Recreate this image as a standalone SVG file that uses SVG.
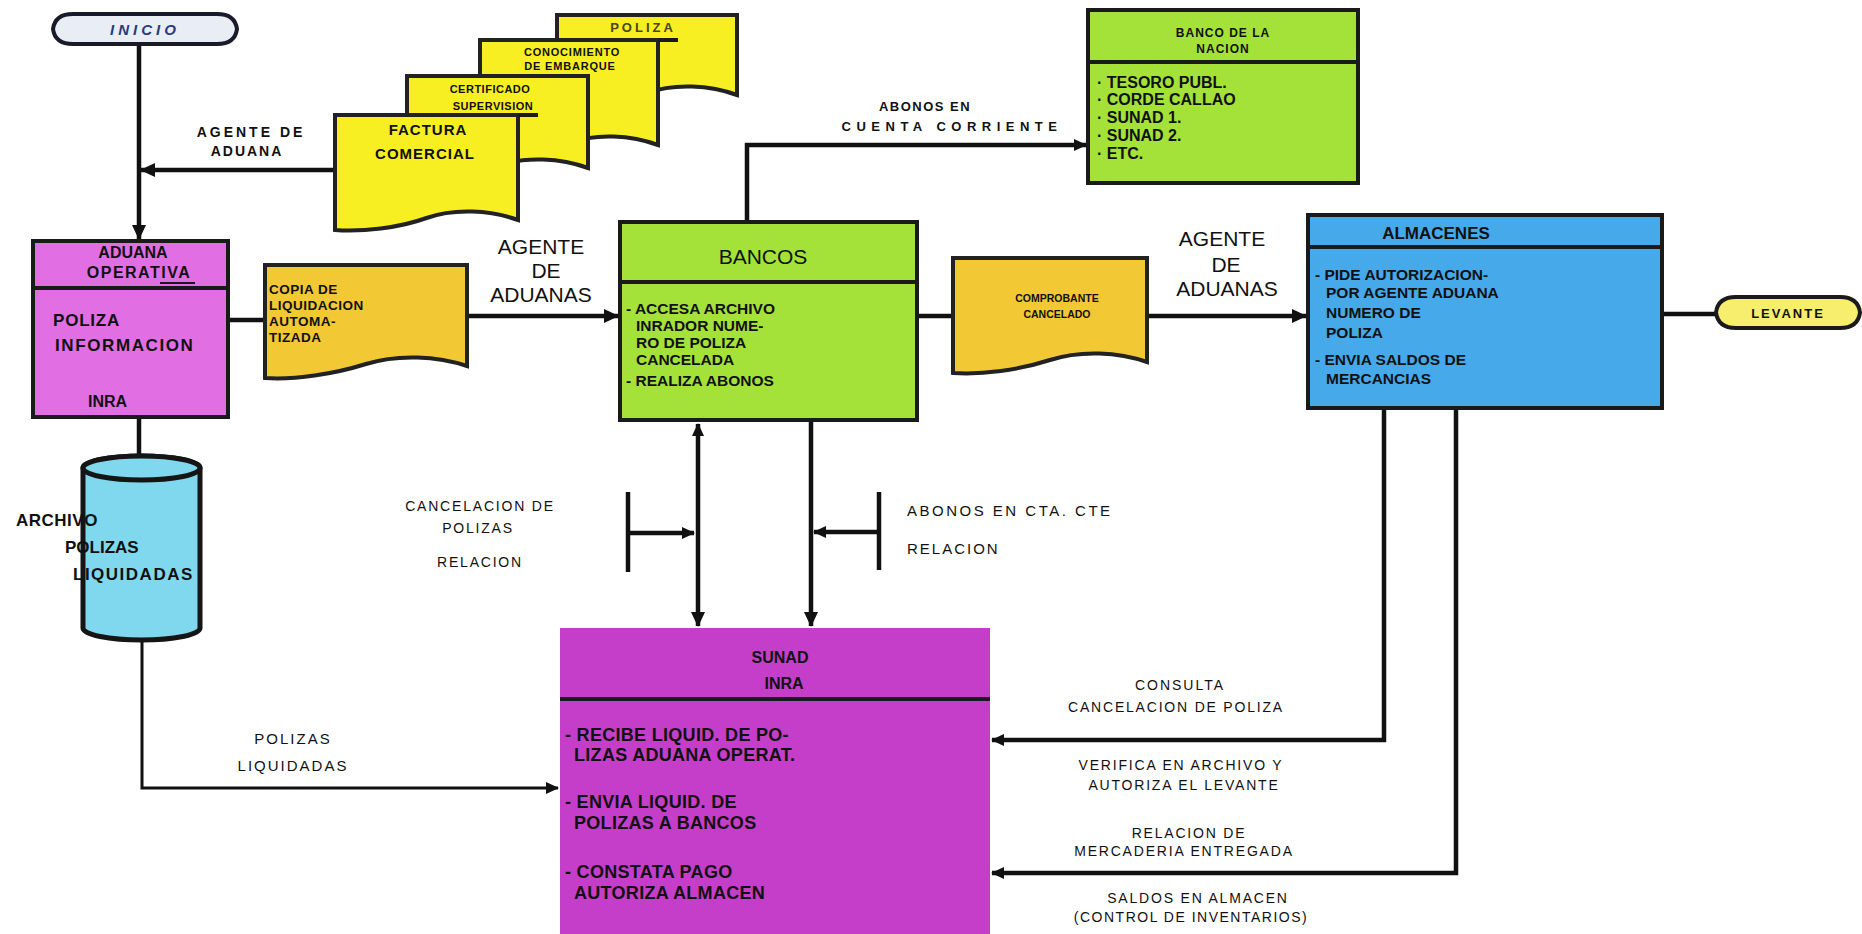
<svg xmlns="http://www.w3.org/2000/svg" width="1862" height="934" viewBox="0 0 1862 934">
<style>
.t{font-family:'Liberation Sans',Arial,Helvetica,sans-serif;fill:#111;dominant-baseline:central}
.b{font-weight:bold}
.c{text-anchor:middle}
.box{stroke:#1a1a1a;stroke-width:4}
.doc{stroke:#222;stroke-width:4}
.ln{fill:none;stroke:#111;stroke-width:4.5}
.thin{fill:none;stroke:#111;stroke-width:3}
.div{stroke:#1a1a1a;stroke-width:4}
</style>
<defs>
<marker id="ah" markerUnits="userSpaceOnUse" markerWidth="16" markerHeight="16" refX="14" refY="8" orient="auto">
<path d="M0,1 L15,8 L0,15 Z" fill="#111"/>
</marker>
<marker id="ahs" markerUnits="userSpaceOnUse" markerWidth="14" markerHeight="14" refX="12" refY="7" orient="auto">
<path d="M0,1 L13,7 L0,13 Z" fill="#111"/>
</marker>
</defs>
<rect width="1862" height="934" fill="#ffffff"/>

<g id="connectors">
<line class="ln" x1="139" y1="44" x2="139" y2="239" marker-end="url(#ah)"/>
<line class="ln" x1="335" y1="170" x2="141" y2="170" marker-end="url(#ah)"/>
<line class="ln" x1="228" y1="320" x2="265" y2="320"/>
<line class="ln" x1="467" y1="316" x2="618" y2="316" marker-end="url(#ah)"/>
<polyline class="ln" points="747,222 747,145 1086,145" marker-end="url(#ahs)"/>
<line class="ln" x1="917" y1="316" x2="953" y2="316"/>
<line class="ln" x1="1147" y1="316" x2="1306" y2="316" marker-end="url(#ah)"/>
<line class="ln" x1="1662" y1="314" x2="1716" y2="314"/>
<line class="ln" x1="139" y1="417" x2="139" y2="456"/>
<polyline class="thin" points="142,632 142,788 558,788" marker-end="url(#ahs)"/>
<line class="ln" x1="698" y1="440" x2="698" y2="626" marker-end="url(#ah)"/>
<line class="ln" x1="698" y1="440" x2="698" y2="424" marker-end="url(#ahs)"/>
<line class="ln" x1="811" y1="422" x2="811" y2="626" marker-end="url(#ah)"/>
<line class="ln" x1="628" y1="492" x2="628" y2="572"/>
<line class="ln" x1="628" y1="533" x2="694" y2="533" marker-end="url(#ahs)"/>
<line class="ln" x1="879" y1="492" x2="879" y2="570"/>
<line class="ln" x1="879" y1="532" x2="814" y2="532" marker-end="url(#ahs)"/>
<polyline class="ln" points="1384,408 1384,740 992,740" marker-end="url(#ahs)"/>
<polyline class="ln" points="1456,408 1456,873 992,873" marker-end="url(#ahs)"/>
</g>

<g id="inicio">
<path d="M73,14 H217 Q235,14 237,29 Q235,44 217,44 H73 Q55,44 53,29 Q55,14 73,14 Z" fill="#e8eef3" stroke="#1a1a2a" stroke-width="4"/>
<text class="t b c" x="145" y="29" font-size="15" font-style="italic" letter-spacing="4" style="fill:#2a3b80">INICIO</text>
</g>

<g id="doc-poliza">
<path class="doc" d="M557,15 H737 V95 C710,85 674,83 647,93 S584,107 557,105 Z" fill="#f8ef22"/>
<text class="t b c" x="643" y="27" font-size="13" letter-spacing="3" style="fill:#4a4612">POLIZA</text>
</g>
<g id="doc-conocimiento">
<path class="doc" d="M480,40 H658 V145 C631,135 596,133 569,143 S507,157 480,155 Z" fill="#f8ef22"/>
<line class="div" x1="658" y1="40" x2="678" y2="40"/>
<text class="t b c" x="572" y="52" font-size="11" letter-spacing="0.8">CONOCIMIENTO</text>
<text class="t b c" x="570" y="66" font-size="11" letter-spacing="0.8">DE EMBARQUE</text>
</g>
<g id="doc-certificado">
<path class="doc" d="M407,76 H588 V168 C561,158 525,156 497.5,166 S434,180 407,178 Z" fill="#f8ef22"/>
<text class="t b c" x="490" y="89" font-size="11" letter-spacing="0.5">CERTIFICADO</text>
<text class="t b c" x="493" y="106" font-size="11" letter-spacing="0.5">SUPERVISION</text>
</g>
<g id="doc-factura">
<path class="doc" d="M335,115 H518 V220 C490.5,210 454,208 426.5,218 S362.5,232 335,230 Z" fill="#f8ef22"/>
<line class="div" x1="518" y1="115" x2="538" y2="115"/>
<text class="t b c" x="428" y="129" font-size="15" letter-spacing="1">FACTURA</text>
<text class="t b c" x="425" y="153" font-size="15" letter-spacing="1">COMERCIAL</text>
</g>
<g id="lbl-agente1">
<text class="t b c" x="251" y="132" font-size="14" letter-spacing="3">AGENTE DE</text>
<text class="t b c" x="247" y="151" font-size="14" letter-spacing="2">ADUANA</text>
</g>

<g id="aduana">
<rect class="box" x="33" y="241" width="195" height="176" fill="#e26ee4"/>
<line class="div" x1="33" y1="288" x2="228" y2="288"/>
<text class="t b c" x="133" y="252" font-size="16">ADUANA</text>
<text class="t b c" x="139" y="272" font-size="16" letter-spacing="1.5">OPERATIVA</text>
<line stroke="#1a1a1a" stroke-width="2" x1="160" y1="283" x2="195" y2="283"/>
<text class="t b" x="53" y="320" font-size="17" letter-spacing="0.8">POLIZA</text>
<text class="t b" x="55" y="345" font-size="17" letter-spacing="1.6">INFORMACION</text>
<text class="t b" x="88" y="401" font-size="16">INRA</text>
</g>

<g id="archivo">
<path d="M83,468 V628 A58.5,12 0 0 0 200,628 V468 A58.5,12 0 0 0 83,468 Z" fill="#80d8ee" stroke="#151515" stroke-width="5"/>
<ellipse cx="141.5" cy="468" rx="58.5" ry="12" fill="#80d8ee" stroke="#151515" stroke-width="5"/>
<text class="t b" x="16" y="520" font-size="17" letter-spacing="0.5">ARCHIVO</text>
<text class="t b" x="65" y="547" font-size="17">POLIZAS</text>
<text class="t b" x="73" y="574" font-size="17" letter-spacing="1.5">LIQUIDADAS</text>
</g>

<g id="copia">
<path class="doc" d="M265,265 H467 V366 C437,356 398,354 366,364 S295,380 265,378 Z" fill="#f2c834"/>
<text class="t b" x="269" y="289" font-size="13.5" letter-spacing="0.5">COPIA DE</text>
<text class="t b" x="269" y="305" font-size="13.5" letter-spacing="0.5">LIQUIDACION</text>
<text class="t b" x="269" y="321" font-size="13.5" letter-spacing="0.5">AUTOMA-</text>
<text class="t b" x="269" y="337" font-size="13.5" letter-spacing="0.5">TIZADA</text>
</g>
<g id="lbl-agente2">
<text class="t c" x="541" y="246" font-size="21">AGENTE</text>
<text class="t c" x="546" y="270" font-size="21">DE</text>
<text class="t c" x="541" y="294" font-size="21">ADUANAS</text>
</g>

<g id="bancos">
<rect class="box" x="620" y="222" width="297" height="198" fill="#a4e23a"/>
<line class="div" x1="620" y1="282" x2="917" y2="282"/>
<text class="t c" x="763" y="256" font-size="21">BANCOS</text>
<text class="t b" x="626" y="308" font-size="15.5">- ACCESA ARCHIVO</text>
<text class="t b" x="636" y="325" font-size="15.5">INRADOR NUME-</text>
<text class="t b" x="636" y="342" font-size="15.5">RO DE POLIZA</text>
<text class="t b" x="636" y="359" font-size="15.5">CANCELADA</text>
<text class="t b" x="626" y="380" font-size="15.5">- REALIZA ABONOS</text>
</g>
<g id="lbl-abonos">
<text class="t b c" x="925" y="106" font-size="13" letter-spacing="1.5">ABONOS EN</text>
<text class="t b c" x="952" y="126" font-size="13" letter-spacing="5.5">CUENTA CORRIENTE</text>
</g>

<g id="banco-nacion">
<rect class="box" x="1088" y="10" width="270" height="173" fill="#a4e23a"/>
<line class="div" x1="1088" y1="62" x2="1358" y2="62"/>
<text class="t b c" x="1223" y="33" font-size="12" letter-spacing="1">BANCO DE LA</text>
<text class="t b c" x="1223" y="49" font-size="12" letter-spacing="1">NACION</text>
<text class="t b" x="1097" y="82" font-size="16">· TESORO PUBL.</text>
<text class="t b" x="1097" y="99" font-size="16">· CORDE CALLAO</text>
<text class="t b" x="1097" y="117" font-size="16">· SUNAD 1.</text>
<text class="t b" x="1097" y="135" font-size="16">· SUNAD 2.</text>
<text class="t b" x="1097" y="153" font-size="16">· ETC.</text>
</g>

<g id="comprobante">
<path class="doc" d="M953,258 H1147 V362 C1118,352 1081,350 1050,360 S982,375 953,373 Z" fill="#f2c834"/>
<text class="t b c" x="1057" y="298" font-size="10.5">COMPROBANTE</text>
<text class="t b c" x="1057" y="314" font-size="10.5">CANCELADO</text>
</g>
<g id="lbl-agente3">
<text class="t c" x="1222" y="238" font-size="21">AGENTE</text>
<text class="t c" x="1226" y="264" font-size="21">DE</text>
<text class="t c" x="1227" y="288" font-size="21">ADUANAS</text>
</g>

<g id="almacenes">
<rect class="box" x="1308" y="215" width="354" height="193" fill="#45a9ea"/>
<line class="div" x1="1308" y1="247" x2="1662" y2="247"/>
<text class="t b c" x="1436" y="233" font-size="17">ALMACENES</text>
<text class="t b" x="1315" y="274" font-size="15.5">- PIDE AUTORIZACION-</text>
<text class="t b" x="1326" y="292" font-size="15.5">POR AGENTE ADUANA</text>
<text class="t b" x="1326" y="312" font-size="15.5">NUMERO DE</text>
<text class="t b" x="1326" y="332" font-size="15.5">POLIZA</text>
<text class="t b" x="1315" y="359" font-size="15.5">- ENVIA SALDOS DE</text>
<text class="t b" x="1326" y="378" font-size="15.5">MERCANCIAS</text>
</g>

<g id="levante">
<path d="M1736,297 H1840 Q1858,297 1860,312.5 Q1858,328 1840,328 H1736 Q1718,328 1716,312.5 Q1718,297 1736,297 Z" fill="#f6ee6c" stroke="#1a1a1a" stroke-width="4"/>
<text class="t b c" x="1788" y="313" font-size="13" letter-spacing="2">LEVANTE</text>
</g>

<g id="lbl-cancelacion">
<text class="t c" x="480" y="506" font-size="14" letter-spacing="1.8">CANCELACION DE</text>
<text class="t c" x="478" y="528" font-size="14" letter-spacing="1.8">POLIZAS</text>
<text class="t c" x="480" y="562" font-size="14" letter-spacing="1.8">RELACION</text>
</g>
<g id="lbl-abonos-cta">
<text class="t" x="907" y="510" font-size="15" letter-spacing="2.5">ABONOS EN CTA. CTE</text>
<text class="t" x="907" y="548" font-size="15" letter-spacing="2">RELACION</text>
</g>
<g id="lbl-polizas-liq">
<text class="t c" x="293" y="738" font-size="15" letter-spacing="2">POLIZAS</text>
<text class="t c" x="293" y="765" font-size="15" letter-spacing="2">LIQUIDADAS</text>
</g>

<g id="sunad">
<rect x="560" y="628" width="430" height="310" fill="#c53ec9"/>
<line class="div" x1="560" y1="699" x2="990" y2="699"/>
<text class="t b c" x="780" y="657" font-size="16">SUNAD</text>
<text class="t b c" x="784" y="683" font-size="16">INRA</text>
<text class="t b" x="565" y="735" font-size="18" letter-spacing="0.3">- RECIBE LIQUID. DE PO-</text>
<text class="t b" x="574" y="755" font-size="18" letter-spacing="0.3">LIZAS ADUANA OPERAT.</text>
<text class="t b" x="565" y="802" font-size="18" letter-spacing="0.3">- ENVIA LIQUID. DE</text>
<text class="t b" x="574" y="823" font-size="18" letter-spacing="0.3">POLIZAS A BANCOS</text>
<text class="t b" x="565" y="872" font-size="18" letter-spacing="0.3">- CONSTATA PAGO</text>
<text class="t b" x="574" y="893" font-size="18" letter-spacing="0.3">AUTORIZA ALMACEN</text>
</g>

<g id="lbl-right">
<text class="t c" x="1180" y="685" font-size="14" letter-spacing="2">CONSULTA</text>
<text class="t c" x="1176" y="707" font-size="14" letter-spacing="1.8">CANCELACION DE POLIZA</text>
<text class="t c" x="1181" y="765" font-size="14" letter-spacing="1.8">VERIFICA EN ARCHIVO Y</text>
<text class="t c" x="1184" y="785" font-size="14" letter-spacing="1.8">AUTORIZA EL LEVANTE</text>
<text class="t c" x="1189" y="833" font-size="14" letter-spacing="1.8">RELACION DE</text>
<text class="t c" x="1184" y="851" font-size="14" letter-spacing="1.8">MERCADERIA ENTREGADA</text>
<text class="t c" x="1198" y="898" font-size="14" letter-spacing="1.8">SALDOS EN ALMACEN</text>
<text class="t c" x="1191" y="917" font-size="14" letter-spacing="1.5">(CONTROL DE INVENTARIOS)</text>
</g>
</svg>
